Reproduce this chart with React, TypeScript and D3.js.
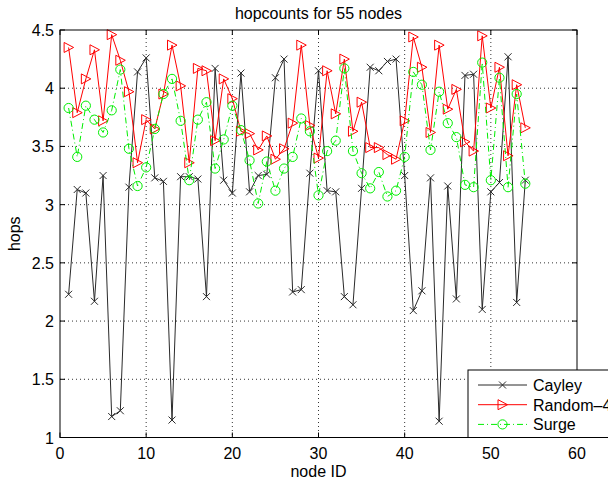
import React from 'react';
import * as d3 from 'd3';

// hop counts per node (node IDs 1..54)
const cayley = [
  2.23, 3.13, 3.10, 2.17, 3.25, 1.18, 1.23, 3.15, 4.14, 4.26,
  3.23, 3.20, 1.15, 3.24, 3.24, 3.22, 2.21, 4.17, 3.21, 3.10,
  4.13, 3.11, 3.25, 3.26, 4.09, 4.25, 2.25, 2.27, 3.27, 4.15,
  3.12, 3.11, 2.21, 2.14, 3.14, 4.18, 4.15, 4.23, 4.25, 3.25,
  2.09, 2.26, 3.23, 1.14, 3.16, 2.19, 4.11, 4.12, 2.10, 3.11,
  3.19, 4.27, 2.16, 3.21,
];
const random4 = [
  4.35, 3.79, 4.08, 4.33, 3.72, 4.46, 4.24, 3.97, 3.36, 3.73,
  3.65, 3.95, 4.37, 4.02, 3.36, 4.17, 4.15, 3.55, 4.08, 3.91,
  3.63, 3.61, 3.47, 3.59, 3.39, 3.48, 3.70, 4.37, 3.68, 3.40,
  4.15, 3.78, 4.25, 3.63, 3.88, 3.49, 3.49, 3.43, 3.39, 3.72,
  4.44, 4.18, 3.62, 4.37, 3.82, 3.99, 3.54, 3.46, 4.45, 3.83,
  4.18, 3.42, 4.03, 3.66,
];
const surge = [
  3.83, 3.41, 3.85, 3.73, 3.62, 3.81, 4.16, 3.48, 3.16, 3.32,
  3.65, 3.95, 4.08, 3.72, 3.21, 3.73, 3.88, 3.31, 3.56, 3.85,
  3.64, 3.38, 3.01, 3.37, 3.12, 3.31, 3.41, 3.74, 3.63, 3.08,
  3.46, 3.55, 4.17, 3.46, 3.27, 3.14, 3.28, 3.07, 3.12, 3.41,
  4.14, 4.03, 3.47, 3.97, 3.70, 3.58, 3.17, 3.15, 4.22, 3.21,
  4.09, 3.15, 3.95, 3.18,
];
const seriesNames = ['Cayley', 'Random\u20134', 'Surge'];
const xTicks = [0, 10, 20, 30, 40, 50, 60];
const yTicks = [1, 1.5, 2, 2.5, 3, 3.5, 4, 4.5];

const W = 608;
const H = 483;
const FONT = '"Liberation Sans", Arial, Helvetica, sans-serif';
const FS = 16;

const xMark = (cx: number, cy: number, s = 3.5) =>
  `M${cx - s},${cy - s}L${cx + s},${cy + s}M${cx - s},${cy + s}L${cx + s},${cy - s}`;
const triMark = (cx: number, cy: number, s = 5) =>
  `M${cx - s * 0.9},${cy - s}L${cx + s},${cy}L${cx - s * 0.9},${cy + s}Z`;

export default function App() {
  const x = d3.scaleLinear().domain([0, 60]).range([60, 577]);
  const y = d3.scaleLinear().domain([1, 4.5]).range([437.5, 30]);
  const [x0, x1] = x.range();
  const [y0, y1] = y.range();

  const line = d3.line<number>().x((_, i) => x(i + 1)).y(d => y(d));

  const series = [
    { name: seriesNames[0], data: cayley, color: '#2a2a2a', dash: undefined, marker: 'x' },
    { name: seriesNames[1], data: random4, color: '#ff0000', dash: undefined, marker: 'tri' },
    { name: seriesNames[2], data: surge, color: '#00ee00', dash: '6,3,1,3', marker: 'o' },
  ];

  const marker = (kind: string, cx: number, cy: number, color: string, key: any) => {
    if (kind === 'x') return <path key={key} d={xMark(cx, cy)} stroke={color} strokeWidth={1} fill="none" />;
    if (kind === 'tri') return <path key={key} d={triMark(cx, cy)} stroke={color} strokeWidth={1} fill="none" />;
    return <circle key={key} cx={cx} cy={cy} r={4.6} stroke={color} strokeWidth={1} fill="none" />;
  };

  const legend = { x: 468, y: 370, w: 150, h: 67.5 };

  return (
    <div style={{ position: 'absolute', left: 0, top: 0 }}>
      <svg width={W} height={H} style={{ display: 'block', background: '#fff' }} fontFamily={FONT}>
        <rect x={x0} y={y1} width={x1 - x0} height={y0 - y1} fill="#fff" />
        {/* grid */}
        {xTicks.slice(1, -1).map(t => (
          <line key={'gx' + t} x1={x(t)} x2={x(t)} y1={y1} y2={y0} stroke="#000" strokeWidth={0.8} strokeDasharray="1,3" />
        ))}
        {yTicks.slice(1, -1).map(t => (
          <line key={'gy' + t} x1={x0} x2={x1} y1={y(t)} y2={y(t)} stroke="#000" strokeWidth={0.8} strokeDasharray="1,3" />
        ))}
        {/* ticks */}
        {xTicks.map(t => (
          <g key={'tx' + t}>
            <line x1={x(t)} x2={x(t)} y1={y0} y2={y0 - 5} stroke="#000" />
            <line x1={x(t)} x2={x(t)} y1={y1} y2={y1 + 5} stroke="#000" />
            <text x={x(t)} y={459} textAnchor="middle" fontSize={FS}>{t}</text>
          </g>
        ))}
        {yTicks.map(t => (
          <g key={'ty' + t}>
            <line x1={x0} x2={x0 + 5} y1={y(t)} y2={y(t)} stroke="#000" />
            <line x1={x1} x2={x1 - 5} y1={y(t)} y2={y(t)} stroke="#000" />
            <text x={54} y={y(t) + 6} textAnchor="end" fontSize={FS}>{t}</text>
          </g>
        ))}
        {/* series */}
        {series.map(s => (
          <g key={s.name}>
            <path d={line(s.data) || ''} fill="none" stroke={s.color} strokeWidth={1} strokeDasharray={s.dash} />
            {s.data.map((v, i) => marker(s.marker, x(i + 1), y(v), s.color, i))}
          </g>
        ))}
        {/* axes box */}
        <rect x={x0} y={y1} width={x1 - x0} height={y0 - y1} fill="none" stroke="#000" strokeWidth={1} />
        {/* labels */}
        <text x={(x0 + x1) / 2} y={19} textAnchor="middle" fontSize={FS}>hopcounts for 55 nodes</text>
        <text x={(x0 + x1) / 2} y={477} textAnchor="middle" fontSize={FS}>node ID</text>
        <text transform={`translate(20,${(y0 + y1) / 2}) rotate(-90)`} textAnchor="middle" fontSize={FS}>hops</text>
        {/* legend */}
        <rect x={legend.x} y={legend.y} width={legend.w} height={legend.h} fill="#fff" stroke="#000" strokeWidth={1} />
        {series.map((s, i) => {
          const ly = 385 + i * 19.7;
          return (
            <g key={'lg' + s.name}>
              <line x1={478} x2={527} y1={ly} y2={ly} stroke={s.color} strokeWidth={1} strokeDasharray={s.dash} />
              {marker(s.marker, 502.5, ly, s.color, 'm')}
              <text x={533} y={ly + 6} fontSize={FS}>{s.name}</text>
            </g>
          );
        })}
      </svg>
    </div>
  );
}
